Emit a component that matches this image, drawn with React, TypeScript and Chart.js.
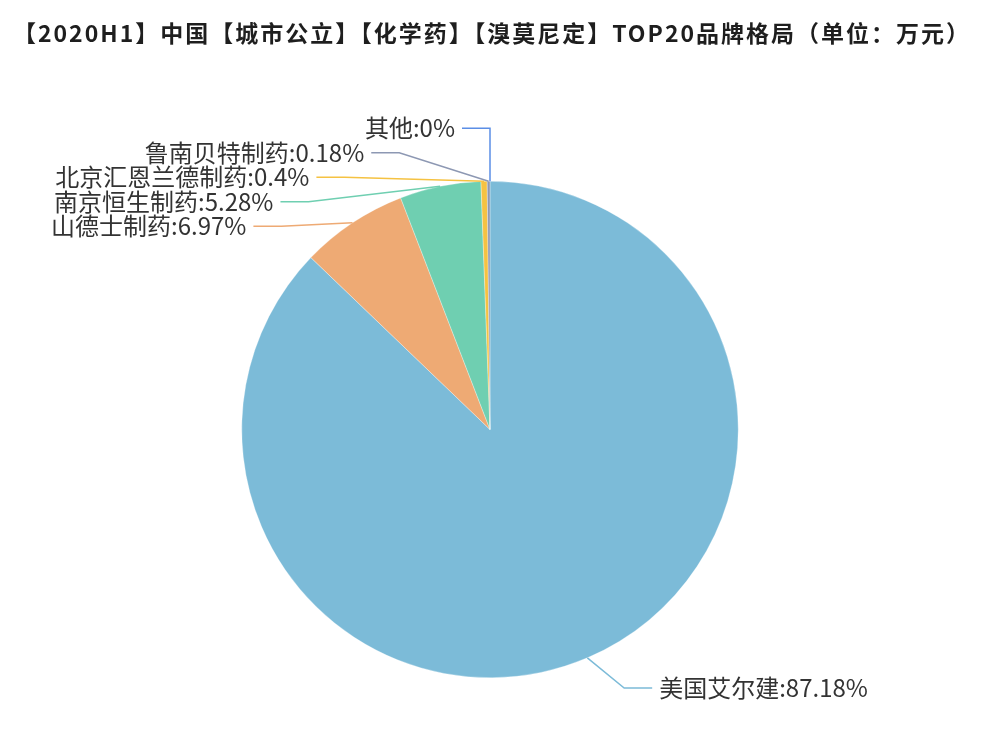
import { useEffect, useRef } from "react";
import { Chart, registerables } from "chart.js";

Chart.register(...registerables);

const brands = ["美国艾尔建", "山德士制药", "南京恒生制药", "北京汇恩兰德制药", "鲁南贝特制药", "其他"];
const shares = [87.18, 6.97, 5.28, 0.4, 0.18, 0];
const sliceColors = ["#7cbbd8", "#eeaa74", "#6fcfb1", "#f5c242", "#8d98b3", "#5b8ee6"];
const chartTitle = "【2020H1】中国【城市公立】【化学药】【溴莫尼定】TOP20品牌格局（单位：万元）";

const FONT = '"Noto Sans CJK SC", "Noto Sans", sans-serif';

// label line geometry, roughly what echarts does for outer pie labels
const Y_EXTRA = 53; // natural label y sits on r + this
const X_EXTRA = 43; // elbow x lies on circle r + this
const LEN2 = 28; // horizontal segment
const GAP = 24.5; // min vertical gap between labels on a side
const TEXT_PAD = 7;

const pieLabels = {
  id: "pieLabels",
  afterDatasetsDraw(chart: Chart) {
    const ctx = chart.ctx;
    const meta = chart.getDatasetMeta(0);
    const items = meta.data.map((el: any, i: number) => {
      const p = el.getProps(["x", "y", "startAngle", "endAngle", "outerRadius"], true);
      const mid = (p.startAngle + p.endAngle) / 2;
      const c = Math.cos(mid);
      const s = Math.sin(mid);
      return {
        i,
        cx: p.x,
        cy: p.y,
        r: p.outerRadius,
        ax: p.x + c * p.outerRadius,
        ay: p.y + s * p.outerRadius,
        y: p.y + s * (p.outerRadius + Y_EXTRA),
        left: c < 1e-9,
      };
    });

    const maxY = chart.height - 44;
    [true, false].forEach((side) => {
      const list = items.filter((it) => it.left === side).sort((a, b) => a.y - b.y);
      for (let k = 1; k < list.length; k++) {
        list[k].y = Math.max(list[k].y, list[k - 1].y + GAP);
      }
      for (let k = list.length - 1; k >= 0; k--) {
        const lim = k === list.length - 1 ? maxY : list[k + 1].y - GAP;
        list[k].y = Math.min(list[k].y, lim);
      }
    });

    ctx.save();
    items.forEach((it) => {
      const dir = it.left ? -1 : 1;
      const rx = it.r + X_EXTRA;
      const dy = it.y - it.cy;
      const ex = it.cx + dir * Math.sqrt(Math.max(0, rx * rx - dy * dy));
      const tx = ex + dir * LEN2;
      ctx.strokeStyle = sliceColors[it.i];
      ctx.lineWidth = 1.5;
      ctx.beginPath();
      ctx.moveTo(it.ax, it.ay);
      ctx.lineTo(ex, it.y);
      ctx.lineTo(tx, it.y);
      ctx.stroke();

      ctx.fillStyle = "#333333";
      ctx.font = `24px ${FONT}`;
      ctx.textAlign = it.left ? "right" : "left";
      ctx.textBaseline = "middle";
      ctx.fillText(`${brands[it.i]}:${shares[it.i]}%`, tx + dir * TEXT_PAD, it.y);
    });

    ctx.fillStyle = "#1e1e1e";
    ctx.font = `bold 23px ${FONT}`;
    (ctx as any).letterSpacing = "2px";
    ctx.textAlign = "center";
    ctx.textBaseline = "middle";
    ctx.fillText(chartTitle, 492, 33);
    ctx.restore();
  },
};

export default function App() {
  const canvasRef = useRef<HTMLCanvasElement>(null);
  const chartRef = useRef<Chart | null>(null);

  useEffect(() => {
    document.body.style.margin = "0";
    if (!canvasRef.current) return;
    if (chartRef.current) chartRef.current.destroy();

    chartRef.current = new Chart(canvasRef.current, {
      type: "pie",
      data: {
        labels: brands,
        datasets: [
          {
            data: shares,
            backgroundColor: sliceColors,
            borderColor: "rgba(255,255,255,0.6)",
            borderWidth: 0.5,
          },
        ],
      },
      options: {
        responsive: true,
        maintainAspectRatio: false,
        animation: false,
        layout: {
          padding: { top: 181, bottom: 54, left: 0, right: 6 },
        },
        plugins: {
          legend: { display: false },
          tooltip: { enabled: false },
        },
      },
      plugins: [pieLabels],
    });

    return () => {
      if (chartRef.current) {
        chartRef.current.destroy();
        chartRef.current = null;
      }
    };
  }, []);

  return (
    <div style={{ position: "absolute", left: 0, top: 0, width: 986, height: 732, background: "#ffffff" }}>
      <canvas ref={canvasRef}></canvas>
    </div>
  );
}
